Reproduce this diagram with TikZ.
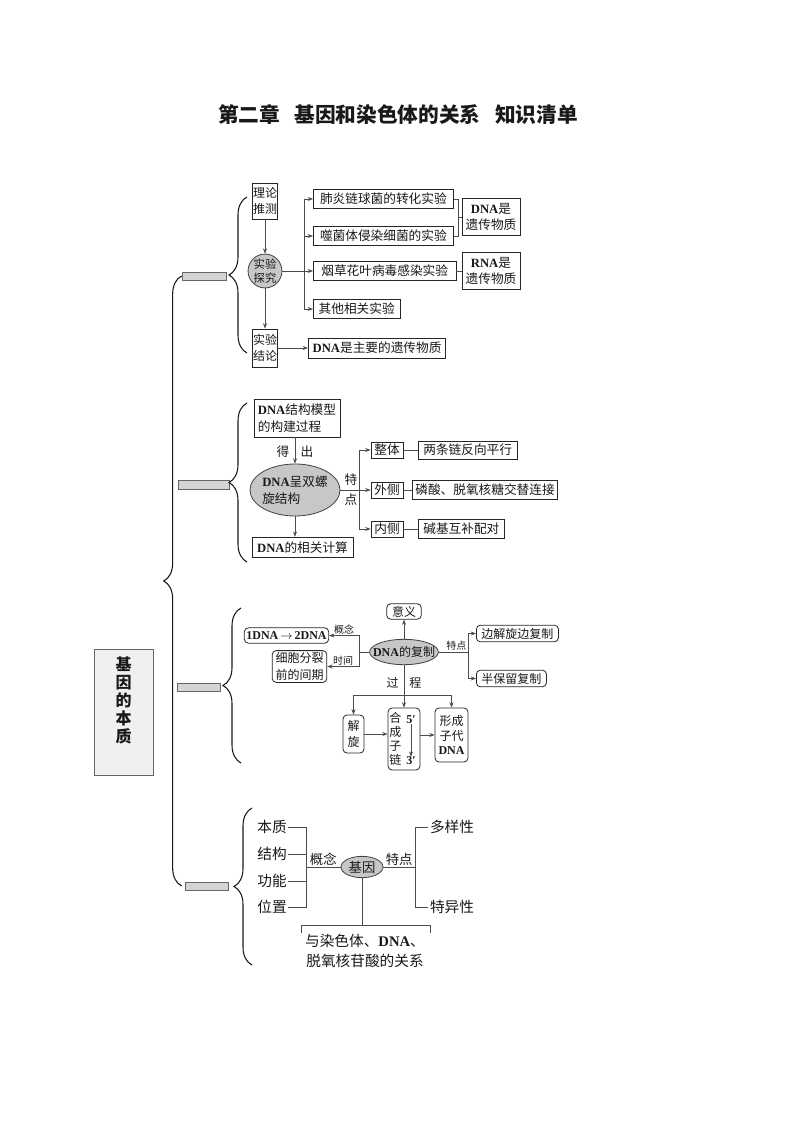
\documentclass[tikz,border=0pt]{standalone}
\usepackage{fontspec}
\setmainfont{Noto Sans CJK SC}
\newfontfamily\tnr{Liberation Serif}
\newcommand{\lat}[1]{{\tnr\bfseries #1}}
\usetikzlibrary{arrows.meta,shapes.geometric,decorations.pathreplacing}

\begin{document}
\begin{tikzpicture}[x=0.75pt,y=-0.75pt,
	>={Stealth[length=4pt,width=3pt]},
	every node/.style={text=black!90},
	line/.style={draw=black!70,line width=0.5pt},
	box/.style={draw=black!85,line width=0.6pt,fill=white,align=center,inner xsep=1.5pt,inner ysep=1.5pt,font=\fontsize{9.5}{12.5}\selectfont},
	rbox/.style={box,rounded corners=3pt,font=\fontsize{9}{12.5}\selectfont},
	oval/.style={ellipse,draw=black!75,line width=0.6pt,fill=black!22,inner sep=0pt,align=center,font=\fontsize{9.5}{12.5}\selectfont},
	bar/.style={draw=black!60,line width=0.5pt,fill=black!17,inner sep=0pt},
	kuohao/.style={decorate,decoration={brace,amplitude=13.5pt},draw=black!90,line width=0.8pt},
	word/.style={inner sep=1pt,font=\fontsize{11}{14.5}\selectfont},
	tiny/.style={inner sep=1pt,font=\fontsize{7.5}{9}\selectfont}]
		\useasboundingbox (0,0) rectangle (794,1123);
		\node[font=\fontsize{15.5}{18}\selectfont\bfseries] (biaoti) at (398,115) {第二章\hspace{0.7em}基因和染色体的关系\hspace{0.7em}知识清单};
		\node[draw=black!60,fill=black!6,minimum width=44pt,minimum height=94.5pt] (zhuti) at (123.5,712) {};
		\node[font=\fontsize{12}{13.5}\selectfont\bfseries,align=center] (zhutiwen) at (123.5,700) {基\\因\\的\\本\\质};
		\node[bar,minimum width=33pt,minimum height=6pt] (tiao1) at (204,276) {};
		\node[bar,minimum width=38pt,minimum height=6.5pt] (tiao2) at (203.5,484.5) {};
		\node[bar,minimum width=32pt,minimum height=6pt] (tiao3) at (198.5,687) {};
		\node[bar,minimum width=32pt,minimum height=6pt] (tiao4) at (206.5,886) {};
		\draw[kuohao] (tiao1.west |- tiao4.west) -- (tiao1.west);
		\draw[kuohao] (247,353) -- (247,197);
		\draw[kuohao] (247,562) -- (247,403);
		\draw[kuohao] (241,763) -- (241,608);
		\draw[kuohao] (252,965) -- (252,808);

		\node[box,inner xsep=0.5pt,minimum height=27pt,font=\fontsize{9}{12.5}\selectfont] (lilun) at (265,201) {理论\\推测};
		\node[circle,draw=black!75,line width=0.6pt,fill=black!22,inner sep=0pt,align=center,font=\fontsize{8.5}{11}\selectfont] (tanjiu) at (265,271) {实验\\探究};
		\node[box,inner xsep=0.5pt,minimum height=28.5pt,font=\fontsize{9}{12.5}\selectfont] (jielun) at (265,348) {实验\\结论};
		\node[box,anchor=west,minimum width=105pt,minimum height=14pt] (feiyan) at (313,199) {肺炎链球菌的转化实验};
		\node[box,anchor=west,minimum width=105pt,minimum height=14pt] (shijunti) at (313,236) {噬菌体侵染细菌的实验};
		\node[box,anchor=west,minimum width=107pt,minimum height=14.5pt] (yancao) at (313,271) {烟草花叶病毒感染实验};
		\node[box,anchor=west,minimum width=65pt,minimum height=14.5pt] (qita) at (313,309) {其他相关实验};
		\node[box,minimum width=43.5pt,minimum height=27.5pt] (dnawz) at (491,217) {\lat{DNA}是\\遗传物质};
		\node[box,minimum width=43.5pt,minimum height=27.5pt] (rnawz) at (491,271) {\lat{RNA}是\\遗传物质};
		\node[box,anchor=west,minimum width=103pt,minimum height=15pt] (zhuyao) at (308,348) {\lat{DNA}是主要的遗传物质};
		\coordinate (fen1) at (304,271);
		\coordinate (he1) at (458,217);
		\draw[line,->] (lilun) -- (tanjiu);
		\draw[line,->] (tanjiu) -- (jielun);
		\draw[line] (tanjiu) -- (fen1);
		\draw[line,->] (fen1) |- (feiyan);
		\draw[line,->] (fen1 |- shijunti) -- (shijunti);
		\draw[line,->] (fen1) -- (yancao);
		\draw[line,->] (fen1) |- (qita);
		\draw[line] (feiyan) -| (he1);
		\draw[line] (shijunti) -| (he1);
		\draw[line] (he1) -- (dnawz);
		\draw[line] (yancao) -- (rnawz);
		\draw[line,->] (jielun) -- (zhuyao);

		\node[box,align=left,minimum width=64.5pt,minimum height=28.5pt] (gouzao) at (297,418) {\lat{DNA}结构模型\\的构建过程};
		\node[oval,align=left,inner xsep=-4pt,minimum width=67.5pt,minimum height=39pt] (luoxuan) at (295,490) {\lat{DNA}呈双螺\\旋结构};
		\node[box,minimum width=75.75pt,minimum height=15.5pt] (jisuan) at (302.5,547.5) {\lat{DNA}的相关计算};
		\node[inner sep=1pt,font=\fontsize{9.5}{12}\selectfont] (dechu) at (295,452) {得\hspace{0.9em}出};
		\node[inner sep=1pt,align=center,font=\fontsize{9.5}{15}\selectfont] (tedian1) at (351,490) {特\\点};
		\node[box,minimum width=24pt,minimum height=12pt] (zhengti) at (387,450) {整体};
		\node[box,minimum width=24pt,minimum height=12pt] (waice) at (387,490) {外侧};
		\node[box,minimum width=24pt,minimum height=12pt] (neice) at (387,529) {内侧};
		\node[box,anchor=west,minimum width=74pt,minimum height=13.5pt] (liangtiao) at (418,450) {两条链反向平行};
		\node[box,anchor=west,minimum width=109pt,minimum height=14pt] (linsuan) at (412,490) {磷酸、脱氧核糖交替连接};
		\node[box,anchor=west,minimum width=64.5pt,minimum height=14pt] (jianji) at (418,529) {碱基互补配对};
		\coordinate (fen2) at (359,490);
		\draw[line,->] (gouzao.south -| luoxuan.north) -- (luoxuan.north);
		\draw[line,->] (luoxuan) -- (luoxuan |- jisuan.north);
		\draw[line] (luoxuan) -- (fen2);
		\draw[line,->] (fen2) |- (zhengti);
		\draw[line,->] (fen2) -- (waice);
		\draw[line,->] (fen2) |- (neice);
		\draw[line] (zhengti) -- (liangtiao);
		\draw[line] (waice) -- (linsuan);
		\draw[line] (neice) -- (jianji);

		\node[oval,inner xsep=-5pt,minimum width=51pt,minimum height=19pt,font=\fontsize{9}{12}\selectfont] (fuzhi) at (404,652) {\lat{DNA}的复制};
		\node[rbox,minimum width=26pt,minimum height=11.5pt] (yiyi) at (404,611.5) {意义};
		\node[rbox,minimum width=61pt,minimum height=11.5pt] (zhuanhua) at (286.5,635.5) {\lat{1DNA}\,$\rightarrow$\,\lat{2DNA}};
		\node[rbox,minimum width=41pt,minimum height=23pt] (jianqi) at (299.5,666.5) {细胞分裂\\前的间期};
		\node[rbox,anchor=west,minimum width=61.5pt,minimum height=12.5pt] (bianjie) at (476,633.5) {边解旋边复制};
		\node[rbox,anchor=west,minimum width=52.5pt,minimum height=12.5pt] (banbao) at (476,678.5) {半保留复制};
		\node[rbox,inner xsep=1pt,minimum width=15.75pt,minimum height=28.5pt] (jiexuan) at (353.5,734) {解\\旋};
		\node[rbox,align=left,inner xsep=1pt,text width=22pt,minimum height=46.5pt,font=\fontsize{9}{10.5}\selectfont] (hecheng) at (404,739) {合\\成\\子\\链};
		\node[inner sep=0pt,font=\fontsize{9}{10}\selectfont] (wu) at (411,720) {\lat{5′}};
		\node[inner sep=0pt,font=\fontsize{9}{10}\selectfont] (san) at (411,761) {\lat{3′}};
		\node[rbox,inner xsep=1pt,minimum width=24.75pt,minimum height=40.5pt,font=\fontsize{9}{11}\selectfont] (xingcheng) at (451.5,735) {形成\\子代\\\lat{DNA}};
		\node[inner sep=1pt,font=\fontsize{9}{12}\selectfont] (guocheng) at (404,683) {过\hspace{0.9em}程};
		\coordinate (fen3) at (359,652);
		\coordinate (fen4) at (468,652);
		\coordinate (fen5) at (404,695);
		\draw[line,->] (fuzhi) -- (yiyi);
		\draw[line] (fuzhi) -- (fen3);
		\draw[line,->] (fen3) |- node[tiny,above,pos=0.75] (gainian1) {概念} (zhuanhua);
		\draw[line,->] (fen3) |- node[tiny,above,pos=0.75] (shijian) {时间} (jianqi);
		\draw[line] (fuzhi) -- node[tiny,above,pos=0.6] (tedian2) {特点} (fen4);
		\draw[line,->] (fen4) |- (bianjie);
		\draw[line,->] (fen4) |- (banbao);
		\draw[line,->] (fuzhi) -- (hecheng);
		\draw[line,->] (fen5) -| (jiexuan);
		\draw[line,->] (fen5) -| (xingcheng);
		\draw[line,->] (jiexuan) -- (jiexuan -| hecheng.west);
		\draw[line,->] (hecheng.east |- xingcheng) -- (xingcheng);
		\draw[line,->] (wu) -- (san);

		\node[word] (benzhi) at (272,827) {本质};
		\node[word] (jiegou) at (272,854) {结构};
		\node[word] (gongneng) at (272,881) {功能};
		\node[word] (weizhi) at (272,907) {位置};
		\node[oval,minimum width=31.5pt,minimum height=16pt,font=\fontsize{10}{12}\selectfont] (jiyin) at (362,867) {基因};
		\node[word] (duoyang) at (452,827) {多样性};
		\node[word] (teyi) at (452,907) {特异性};
		\node[word,align=center] (guanxi) at (365,951) {与染色体、\lat{DNA}、\\脱氧核苷酸的关系};
		\coordinate (fen6) at (306,867);
		\coordinate (fen7) at (415,867);
		\coordinate (fen8) at (362,925);
		\coordinate (zuo) at (301,933);
		\coordinate (you) at (430,933);
		\draw[line] (benzhi) -| (fen6);
		\draw[line] (weizhi) -| (fen6);
		\draw[line] (jiegou) -- (jiegou -| fen6);
		\draw[line] (gongneng) -- (gongneng -| fen6);
		\draw[line] (fen6) -- node[inner sep=1pt,above,font=\fontsize{10}{12}\selectfont] (gainian2) {概念} (jiyin);
		\draw[line] (jiyin) -- node[inner sep=1pt,above,font=\fontsize{10}{12}\selectfont] (tedian3) {特点} (fen7);
		\draw[line] (duoyang) -| (fen7);
		\draw[line] (teyi) -| (fen7);
		\draw[line] (jiyin) -- (fen8);
		\draw[line] (zuo) |- (fen8) -| (you);
\end{tikzpicture}
\end{document}
